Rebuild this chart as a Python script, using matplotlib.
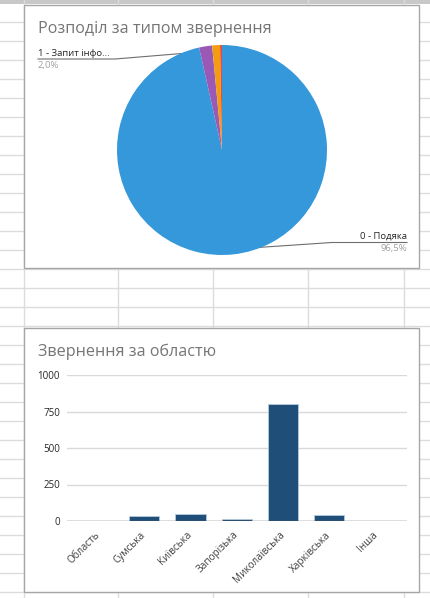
import matplotlib
matplotlib.use('Agg')
import matplotlib.pyplot as plt
from matplotlib.patches import Rectangle
import numpy as np

plt.rcParams['font.family'] = ['Open Sans', 'DejaVu Sans']

# pie data
pie_labels = ['0 - Подяка', '1 - Запит інфо...', '2', '3']
pie_shares = [96.5, 2.0, 1.2, 0.3]
pie_colors = ['#3498db', '#9b59b6', '#f39c12', '#e74c3c']

# bar data
regions = ['Область', 'Сумська', 'Київська', 'Запорізька', 'Миколаївська', 'Харківська', 'Інша']
counts = [0, 32, 50, 14, 804, 43, 0]
y_ticks = [0, 250, 500, 750, 1000]

W, H = 430, 598
fig = plt.figure(figsize=(W / 100, H / 100), dpi=100)

# spreadsheet background in pixel coords (top-left origin)
bg = fig.add_axes([0, 0, 1, 1])
bg.set_xlim(0, W)
bg.set_ylim(H, 0)
bg.axis('off')
for yy in range(22, H, 19):
    bg.plot([0, W], [yy, yy], color='#dcdcdc', lw=1.0)
for xx in [24, 118.3, 213.3, 308.3, 403.7]:
    bg.plot([xx, xx], [0, H], color='#dcdcdc', lw=1.0)
bg.add_patch(Rectangle((0, 0), W, 4, color='#c8c8c8', lw=0))

# chart boxes
for top, bottom in [(5, 268), (328, 592)]:
    bg.add_patch(Rectangle((24, top), 395, bottom - top, facecolor='white',
                           edgecolor='#a6a6a6', lw=1.0, zorder=3))


def fx(x):
    return x / W


def fy(y):
    return 1 - y / H


# ---- pie chart ----
bg.text(38, 29, 'Розподіл за типом звернення', fontsize=11.6, color='#757575',
        va='center', ha='left', zorder=5)

cx, cy, r = 222, 150, 105
ax1 = fig.add_axes([fx(cx - r), fy(cy + r), 2 * r / W, 2 * r / H])
ax1.pie(pie_shares, colors=pie_colors, startangle=90, counterclock=False,
        wedgeprops=dict(linewidth=0), radius=1)
ax1.set_xlim(-1, 1)
ax1.set_ylim(-1, 1)
ax1.set_aspect('auto')
ax1.axis('off')

cum = np.cumsum([0] + pie_shares) / sum(pie_shares)


def dot_px(i, rr=0.95):
    mid = (cum[i] + cum[i + 1]) / 2
    ang = np.deg2rad(90 - 360 * mid)
    return cx + r * rr * np.cos(ang), cy - r * rr * np.sin(ang)


# purple label (left)
px, py = dot_px(1)
bg.plot([px, 115, 38], [py, 59, 59], color='#6e6e6e', lw=0.8, zorder=6)
bg.plot([px], [py], 'o', color='#a8a8a8', ms=3, zorder=7)
bg.text(38, 57.5, pie_labels[1], fontsize=6.8, color='#262626', ha='left', va='bottom', zorder=6)
bg.text(38, 61, '2,0%', fontsize=6.8, color='#a0a0a0', ha='left', va='top', zorder=6)

# blue label (right)
px, py = dot_px(0)
bg.plot([px, 332, 407], [py, 242.5, 242.5], color='#6e6e6e', lw=0.8, zorder=6)
bg.plot([px], [py], 'o', color='#a8a8a8', ms=3, zorder=7)
bg.text(407, 241, pie_labels[0], fontsize=6.8, color='#262626', ha='right', va='bottom', zorder=6)
bg.text(407, 244.5, '96,5%', fontsize=6.8, color='#a0a0a0', ha='right', va='top', zorder=6)

# ---- bar chart ----
bg.text(38, 352, 'Звернення за областю', fontsize=11.6, color='#757575',
        va='center', ha='left', zorder=5)

ax2 = fig.add_axes([fx(67), fy(521), 340 / W, 146 / H])
ax2.set_zorder(5)
ax2.patch.set_alpha(0)
xs = np.arange(len(regions))
ax2.bar(xs, counts, width=0.65, color='#1f4e79', edgecolor='#b4cbe0', linewidth=0.6, zorder=3)
ax2.set_xlim(-0.67, 6.68)
ax2.set_ylim(0, 1000)
ax2.set_yticks(y_ticks)
ax2.set_yticklabels([str(v) for v in y_ticks], fontsize=7, color='#262626')
for v in y_ticks[1:]:
    ax2.axhline(v, color='#d9d9d9', lw=1.0, zorder=1)
ax2.axhline(0, color='#595959', lw=1.0, zorder=4)
ax2.set_xticks(xs)
ax2.set_xticklabels(regions, fontsize=7.2, color='#404040', rotation=45,
                    ha='right', va='center', rotation_mode='anchor')
ax2.tick_params(axis='both', length=0)
ax2.tick_params(axis='x', pad=9)
ax2.tick_params(axis='y', pad=5)
for s in ax2.spines.values():
    s.set_visible(False)

plt.savefig('out.png', dpi=100)
